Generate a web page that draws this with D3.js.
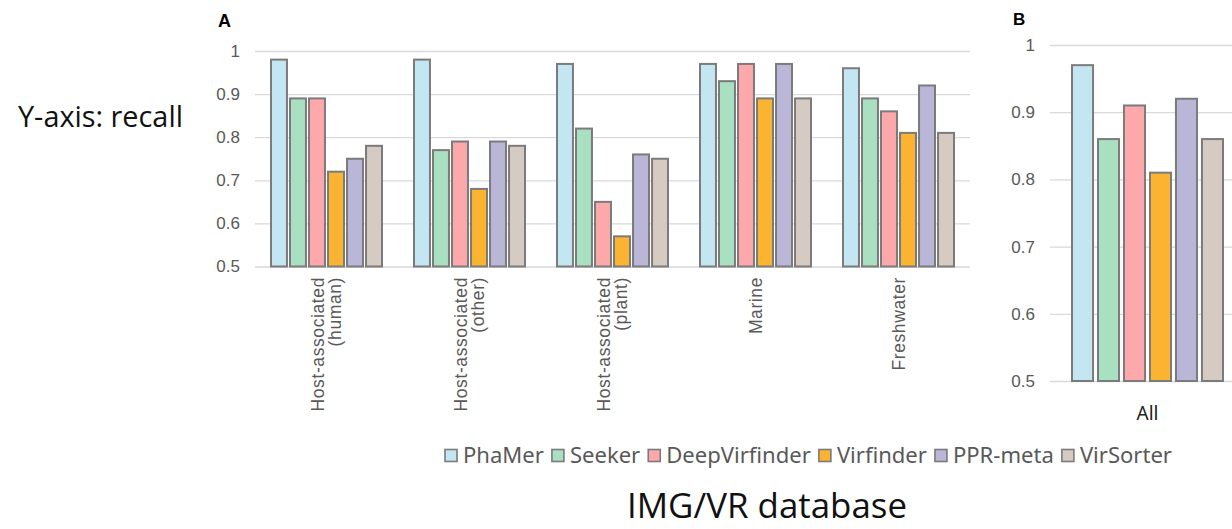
<!DOCTYPE html>
<html>
<head>
<meta charset="utf-8">
<script src="https://cdn.jsdelivr.net/npm/d3@7"></script>
<style>
  body { margin: 0; background: #fff; }
  svg { display: block; }
</style>
</head>
<body>
<div id="chart"></div>
<script>
// data
var methods = ['PhaMer', 'Seeker', 'DeepVirfinder', 'Virfinder', 'PPR-meta', 'VirSorter'];
var colors = ['#c4e6f3', '#a9e0c1', '#fda9ac', '#fbb431', '#b9b6d7', '#d5cbc3'];

var habitats = ['Host-associated (human)', 'Host-associated (other)', 'Host-associated (plant)', 'Marine', 'Freshwater'];
var habitatLines = [['Host-associated', '(human)'], ['Host-associated', '(other)'], ['Host-associated', '(plant)'], ['Marine'], ['Freshwater']];

var recallHuman = [0.98, 0.89, 0.89, 0.72, 0.75, 0.78];
var recallOther = [0.98, 0.77, 0.79, 0.68, 0.79, 0.78];
var recallPlant = [0.97, 0.82, 0.65, 0.57, 0.76, 0.75];
var recallMarine = [0.97, 0.93, 0.97, 0.89, 0.97, 0.89];
var recallFresh = [0.96, 0.89, 0.86, 0.81, 0.92, 0.81];
var recallAll = [0.97, 0.86, 0.91, 0.81, 0.92, 0.86];

var yTicks = [0.5, 0.6, 0.7, 0.8, 0.9, 1];
var yTickLabels = ['0.5', '0.6', '0.7', '0.8', '0.9', '1'];

var width = 1232, height = 529;
var axisFont = 'Liberation Sans, Arial, sans-serif';
var textGray = '#595959';
var gridColor = '#d9d9d9';
var barStroke = '#7b7b7b';

var svg = d3.select('#chart').append('svg')
    .attr('width', width)
    .attr('height', height);

// shrink or grow a text's font so it spans the width seen in the figure
function fitWidth(sel, target) {
    var node = sel.node();
    var fs = parseFloat(sel.style('font-size'));
    var w = node.getComputedTextLength();
    sel.style('font-size', (fs * target / w) + 'px');
}

// build the rows for panel A
var seriesA = [recallHuman, recallOther, recallPlant, recallMarine, recallFresh];
var rowsA = habitats.map(function (h, i) {
    return { cat: h, lines: habitatLines[i], values: seriesA[i] };
});

// ---------- panel A ----------
var xA = d3.scaleBand().domain(habitats).range([255, 970]);
var yA = d3.scaleLinear().domain([0.5, 1]).range([266.5, 51]);
var innerA = d3.scaleBand().domain(methods).range([0, 111]).paddingInner(0.16).paddingOuter(0);
var offA = (xA.bandwidth() - 111) / 2;

var gA = svg.append('g');

var axisA = d3.axisLeft(yA).tickValues(yTicks)
    .tickFormat(function (d, i) { return yTickLabels[i]; })
    .tickSize(-(970 - 255)).tickPadding(15);
gA.append('g')
    .attr('transform', 'translate(255,0)')
    .call(axisA)
    .call(function (g) {
        g.select('.domain').remove();
        g.selectAll('.tick line').attr('stroke', gridColor).attr('stroke-width', 1.3);
        g.selectAll('.tick text').attr('fill', textGray)
            .style('font-family', axisFont).style('font-size', '17px');
    });

var groupsA = gA.selectAll('.grp').data(rowsA).enter().append('g')
    .attr('class', 'grp')
    .attr('transform', function (d) { return 'translate(' + (xA(d.cat) + offA) + ',0)'; });

groupsA.selectAll('rect').data(function (d) { return d.values; }).enter().append('rect')
    .attr('x', function (d, i) { return innerA(methods[i]); })
    .attr('width', innerA.bandwidth())
    .attr('y', function (d) { return yA(d); })
    .attr('height', function (d) { return yA(0.5) - yA(d); })
    .attr('fill', function (d, i) { return colors[i]; })
    .attr('stroke', barStroke)
    .attr('stroke-width', 2);

// rotated category labels
var labA = gA.selectAll('.lab').data(rowsA).enter().append('text')
    .attr('class', 'lab')
    .attr('transform', function (d) {
        return 'translate(' + (xA(d.cat) + xA.bandwidth() / 2) + ',277) rotate(-90)';
    })
    .attr('text-anchor', 'end')
    .attr('fill', textGray)
    .style('font-family', axisFont)
    .style('font-size', '17.5px')
    .style('letter-spacing', '0.6px');

labA.each(function (d) {
    var t = d3.select(this);
    var n = d.lines.length;
    d.lines.forEach(function (line, j) {
        var off = (j - (n - 1) / 2) * 17 + 6;
        t.append('tspan').attr('x', 0).attr('y', off).text(line);
    });
});

svg.append('text')
    .attr('x', 218).attr('y', 27)
    .style('font-family', axisFont).style('font-size', '18px').style('font-weight', 'bold')
    .text('A');

// ---------- panel B ----------
var xB = d3.scaleBand().domain(['All']).range([1050, 1245]);
var yB = d3.scaleLinear().domain([0.5, 1]).range([381, 45]);
var innerB = d3.scaleBand().domain(methods).range([0, 151]).paddingInner(0.19).paddingOuter(0);
var offB = (xB.bandwidth() - 151) / 2;

var gB = svg.append('g');

var axisB = d3.axisLeft(yB).tickValues(yTicks)
    .tickFormat(function (d, i) { return yTickLabels[i]; })
    .tickSize(-(1245 - 1050)).tickPadding(15);
gB.append('g')
    .attr('transform', 'translate(1050,0)')
    .call(axisB)
    .call(function (g) {
        g.select('.domain').remove();
        g.selectAll('.tick line').attr('stroke', gridColor).attr('stroke-width', 1.3);
        g.selectAll('.tick text').attr('fill', textGray)
            .style('font-family', axisFont).style('font-size', '17px');
    });

gB.append('g')
    .attr('transform', 'translate(' + (xB('All') + offB) + ',0)')
    .selectAll('rect').data(recallAll).enter().append('rect')
    .attr('x', function (d, i) { return innerB(methods[i]); })
    .attr('width', innerB.bandwidth())
    .attr('y', function (d) { return yB(d); })
    .attr('height', function (d) { return yB(0.5) - yB(d); })
    .attr('fill', function (d, i) { return colors[i]; })
    .attr('stroke', barStroke)
    .attr('stroke-width', 2);

gB.append('text')
    .attr('x', xB('All') + xB.bandwidth() / 2)
    .attr('y', 420)
    .attr('text-anchor', 'middle')
    .attr('fill', '#222')
    .style('font-family', 'Noto Sans, sans-serif')
    .style('font-size', '19px')
    .text('All');

svg.append('text')
    .attr('x', 1013).attr('y', 25)
    .style('font-family', axisFont).style('font-size', '17px').style('font-weight', 'bold')
    .text('B');

// ---------- legend ----------
var legend = svg.append('g');
var items = legend.selectAll('g').data(methods).enter().append('g');
items.append('rect')
    .attr('width', 12).attr('height', 12)
    .attr('y', 449.5)
    .attr('fill', function (d, i) { return colors[i]; })
    .attr('stroke', barStroke).attr('stroke-width', 1.6);
items.append('text')
    .attr('y', 463)
    .attr('fill', textGray)
    .style('font-family', 'Noto Sans, sans-serif')
    .style('font-size', '22px')
    .text(function (d) { return d; });

// lay out legend items from measured text widths, spanning 445..1172
var widths = [];
items.select('text').each(function () { widths.push(this.getComputedTextLength()); });
var gapIcon = 6, gapItem = 8;
var textSum = d3.sum(widths);
var fixed = methods.length * (12 + gapIcon) + (methods.length - 1) * gapItem;
var scaleFont = (1172 - 445 - fixed) / textSum;
items.select('text').style('font-size', (22 * scaleFont) + 'px');
widths = widths.map(function (w) { return w * scaleFont; });
var cx = 445;
items.each(function (d, i) {
    d3.select(this).select('rect').attr('x', cx);
    d3.select(this).select('text').attr('x', cx + 12 + gapIcon);
    cx += 12 + gapIcon + widths[i] + gapItem;
});

// ---------- outer captions ----------
var yLab = svg.append('text')
    .attr('x', 18).attr('y', 127)
    .attr('fill', '#111')
    .style('font-family', 'Open Sans, sans-serif')
    .style('font-size', '24px')
    .text('Y-axis: recall');
fitWidth(yLab, 165);

var dbLab = svg.append('text')
    .attr('x', 767).attr('y', 518)
    .attr('text-anchor', 'middle')
    .attr('fill', '#111')
    .style('font-family', 'Open Sans, sans-serif')
    .style('font-size', '30px')
    .text('IMG/VR database');
fitWidth(dbLab, 280);
</script>
</body>
</html>
